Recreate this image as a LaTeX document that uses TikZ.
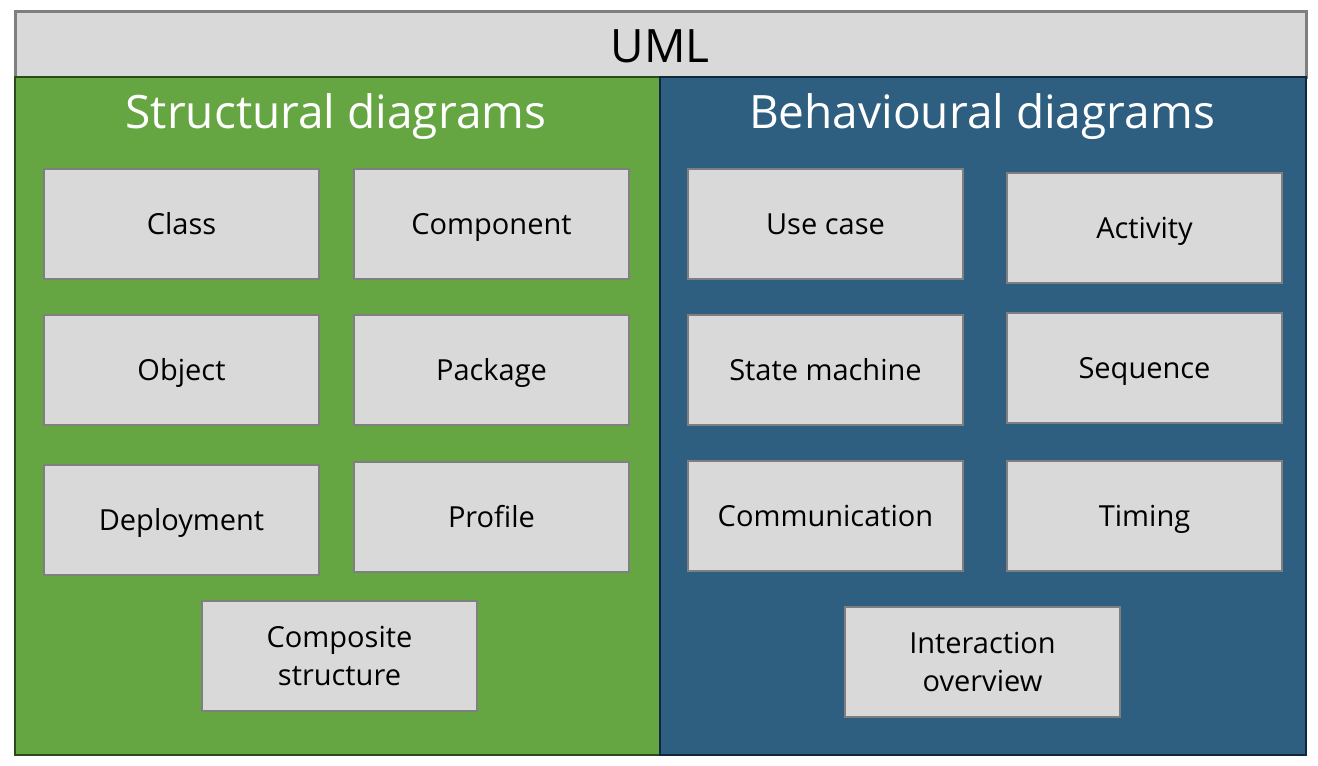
\documentclass[tikz,border=0pt]{standalone}
\usepackage{fontspec}
\setmainfont{Open Sans}
\definecolor{boxgray}{HTML}{D9D9D9}
\definecolor{edgegray}{HTML}{7F7F7F}
\definecolor{panelgreen}{HTML}{65A642}
\definecolor{greenedge}{HTML}{2A4A1A}
\definecolor{panelblue}{HTML}{2E5F80}
\definecolor{blueedge}{HTML}{10283A}
\begin{document}
\begin{tikzpicture}[x=1pt,y=-1pt,
  boxbase/.style={draw=edgegray,line width=2.5pt,fill=boxgray,minimum width=275pt,minimum height=110pt,inner sep=0pt,font=\fontsize{29}{38}\selectfont,text=black},
  diag/.style={boxbase,text height=27pt,text depth=7pt},
  diagtwo/.style={boxbase,align=center},
  paneltitle/.style={font=\fontsize{46}{54}\selectfont,text=white,inner sep=0pt,anchor=base}]
\useasboundingbox (0,0) rectangle (1318,766);
\fill[white] (0,0) rectangle (1318,766);
% top bar
\node[draw=edgegray,line width=2.5pt,fill=boxgray,minimum width=1291pt,minimum height=66pt,inner sep=0pt,anchor=north west] (top) at (14,10) {};
\node[font=\fontsize{46}{54}\selectfont,inner sep=0pt,anchor=base] (uml) at (660,62) {UML};
% panels
\node[draw=greenedge,line width=2pt,fill=panelgreen,minimum width=645pt,minimum height=678pt,inner sep=0pt,anchor=north west] (left) at (14,76) {};
\node[draw=blueedge,line width=2pt,fill=panelblue,minimum width=646pt,minimum height=678pt,inner sep=0pt,anchor=north west] (right) at (659,76) {};
\node[paneltitle] (ltitle) at (336,128) {Structural diagrams};
\node[paneltitle] (rtitle) at (982,128) {Behavioural diagrams};
% structural
\node[diag] (class) at (181.5,224) {Class};
\node[diag] (component) at (491.5,224) {Component};
\node[diag] (object) at (181.5,370) {Object};
\node[diag] (package) at (491.5,370) {Package};
\node[diag] (deployment) at (181.5,520) {Deployment};
\node[diag] (profile) at (491.5,517) {Profile};
\node[diagtwo] (composite) at (339.5,656) {Composite\\structure};
% behavioural
\node[diag] (usecase) at (825.5,224) {Use case};
\node[diag] (activity) at (1144.5,228) {Activity};
\node[diag] (state) at (825.5,370) {State machine};
\node[diag] (sequence) at (1144.5,368) {Sequence};
\node[diag] (comm) at (825.5,516) {Communication};
\node[diag] (timing) at (1144.5,516) {Timing};
\node[diagtwo] (interaction) at (982.5,662) {Interaction\\overview};
\end{tikzpicture}
\end{document}
